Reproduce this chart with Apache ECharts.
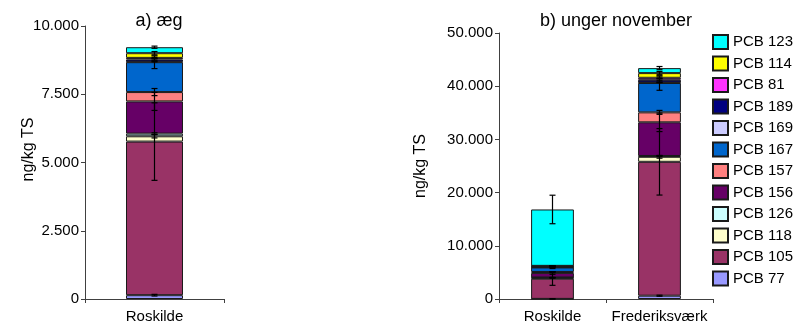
<!DOCTYPE html>
<html>
<head>
<meta charset="utf-8">
<script src="https://cdn.jsdelivr.net/npm/echarts@6/dist/echarts.min.js"></script>
<style>
  html, body { margin: 0; padding: 0; background: #fff; }
  #chart { width: 801px; height: 324px; }
</style>
</head>
<body>
<div id="chart"></div>
<script>
// PCB congeners, listed from the bottom of each stack to the top
const congeners = ['PCB 77', 'PCB 105', 'PCB 118', 'PCB 126', 'PCB 156', 'PCB 157',
                   'PCB 167', 'PCB 169', 'PCB 189', 'PCB 81', 'PCB 114', 'PCB 123'];
const congenerColors = ['#9999FF', '#993366', '#FFFFCC', '#CCFFFF', '#660066', '#FF8080',
                        '#0066CC', '#CCCCFF', '#000080', '#FF33FF', '#FFFF00', '#00FFFF'];

// a) eggs
const eggSites = ['Roskilde'];
const eggRoskildeMean = [140, 5626, 194, 98, 1179, 343, 1095, 20, 80, 57, 172, 219];
const eggRoskildeErr  = [30, 1420, 60, 30, 330, 130, 235, 10, 30, 20, 60, 40];

// b) chicks, November
const chickSites = ['Roskilde', 'Frederiksværk'];
const chickRoskildeMean = [20, 3800, 150, 80, 850, 180, 850, 30, 200, 30, 40, 10600];
const chickRoskildeErr  = [10, 1250, 50, 20, 250, 60, 200, 10, 60, 10, 10, 2680];
const chickFrederiksMean = [620, 25170, 940, 150, 6330, 1870, 5520, 100, 510, 370, 880, 940];
const chickFrederiksErr  = [100, 6250, 260, 60, 1740, 370, 1370, 30, 200, 150, 300, 300];

// y-axis ticks
const eggAxisMax = 10000, eggAxisStep = 2500;
const chickAxisMax = 50000, chickAxisStep = 10000;

const FONT = "'Liberation Sans', Arial, sans-serif";
const fmt = v => String(v).replace(/\B(?=(\d{3})+(?!\d))/g, '.');

// error bar items: [category, stacked top, error]
function errorItems(meanLists, errLists) {
  const items = [];
  meanLists.forEach((means, cat) => {
    let cum = 0;
    means.forEach((m, i) => {
      cum += m;
      items.push([cat, cum, errLists[cat][i]]);
    });
  });
  return items;
}

function renderErrorBar(params, api) {
  const cat = api.value(0), top = api.value(1), err = api.value(2);
  const hi = api.coord([cat, top + err]);
  const lo = api.coord([cat, Math.max(0, top - err)]);
  const cap = 3;
  const style = { stroke: '#000', lineWidth: 1.2 };
  return {
    type: 'group',
    children: [
      { type: 'line', shape: { x1: hi[0], y1: hi[1], x2: lo[0], y2: lo[1] }, style },
      { type: 'line', shape: { x1: hi[0] - cap, y1: hi[1], x2: hi[0] + cap, y2: hi[1] }, style },
      { type: 'line', shape: { x1: lo[0] - cap, y1: lo[1], x2: lo[0] + cap, y2: lo[1] }, style }
    ]
  };
}

const series = [];
congeners.forEach((name, i) => {
  const itemStyle = { color: congenerColors[i], borderColor: '#1a1a1a', borderWidth: 1 };
  series.push({
    name, type: 'bar', stack: 'egg', xAxisIndex: 0, yAxisIndex: 0,
    barWidth: '41%', itemStyle, data: [eggRoskildeMean[i]]
  });
  series.push({
    name, type: 'bar', stack: 'chick', xAxisIndex: 1, yAxisIndex: 1,
    barWidth: '40%', itemStyle, data: [chickRoskildeMean[i], chickFrederiksMean[i]]
  });
});
series.push({
  type: 'custom', xAxisIndex: 0, yAxisIndex: 0, z: 10,
  renderItem: renderErrorBar,
  data: errorItems([eggRoskildeMean], [eggRoskildeErr])
});
series.push({
  type: 'custom', xAxisIndex: 1, yAxisIndex: 1, z: 10,
  renderItem: renderErrorBar,
  data: errorItems([chickRoskildeMean, chickFrederiksMean], [chickRoskildeErr, chickFrederiksErr])
});

const axisLine = { show: true, lineStyle: { color: '#404040', width: 1 } };
const axisTick = { show: true, length: 4, lineStyle: { color: '#404040' } };
const axisLabel = { color: '#000', fontSize: 15, fontFamily: FONT };

const option = {
  animation: false,
  textStyle: { fontFamily: FONT },
  title: [
    { text: 'a) æg', left: 154, top: 7, textAlign: 'center',
      textStyle: { fontSize: 18, fontWeight: 'normal', color: '#000', fontFamily: FONT } },
    { text: 'b) unger november', left: 611, top: 7, textAlign: 'center',
      textStyle: { fontSize: 18, fontWeight: 'normal', color: '#000', fontFamily: FONT } }
  ],
  legend: {
    orient: 'vertical', left: 707, top: 29,
    itemWidth: 15, itemHeight: 14, itemGap: 5.5,
    icon: 'rect',
    data: congeners.slice().reverse(),
    textStyle: { fontSize: 15, color: '#000', fontFamily: FONT }
  },
  grid: [
    { left: 85, right: 801 - 224, top: 26, bottom: 24 },
    { left: 499, right: 801 - 713, top: 33, bottom: 24 }
  ],
  xAxis: [
    { type: 'category', gridIndex: 0, data: eggSites, axisLine, axisTick,
      axisLabel: { ...axisLabel, margin: 10, interval: 0 } },
    { type: 'category', gridIndex: 1, data: chickSites, axisLine, axisTick,
      axisLabel: { ...axisLabel, margin: 10, interval: 0, hideOverlap: false } }
  ],
  yAxis: [
    { type: 'value', gridIndex: 0, min: 0, max: eggAxisMax, interval: eggAxisStep,
      name: 'ng/kg TS', nameLocation: 'middle', nameGap: 48, nameRotate: 90,
      nameMoveOverlap: false,
      nameTextStyle: { fontSize: 16, color: '#000', fontFamily: FONT, padding: [0, 0, 0, 26] },
      splitLine: { show: false }, axisLine, axisTick,
      axisLabel: { ...axisLabel, margin: 6, formatter: fmt } },
    { type: 'value', gridIndex: 1, min: 0, max: chickAxisMax, interval: chickAxisStep,
      name: 'ng/kg TS', nameLocation: 'middle', nameGap: 70, nameRotate: 90,
      nameMoveOverlap: false,
      nameTextStyle: { fontSize: 16, color: '#000', fontFamily: FONT },
      splitLine: { show: false }, axisLine, axisTick,
      axisLabel: { ...axisLabel, margin: 6, formatter: fmt } }
  ],
  series
};

const chart = echarts.init(document.getElementById('chart'), null, { renderer: 'canvas' });
chart.setOption(option);
</script>
</body>
</html>
